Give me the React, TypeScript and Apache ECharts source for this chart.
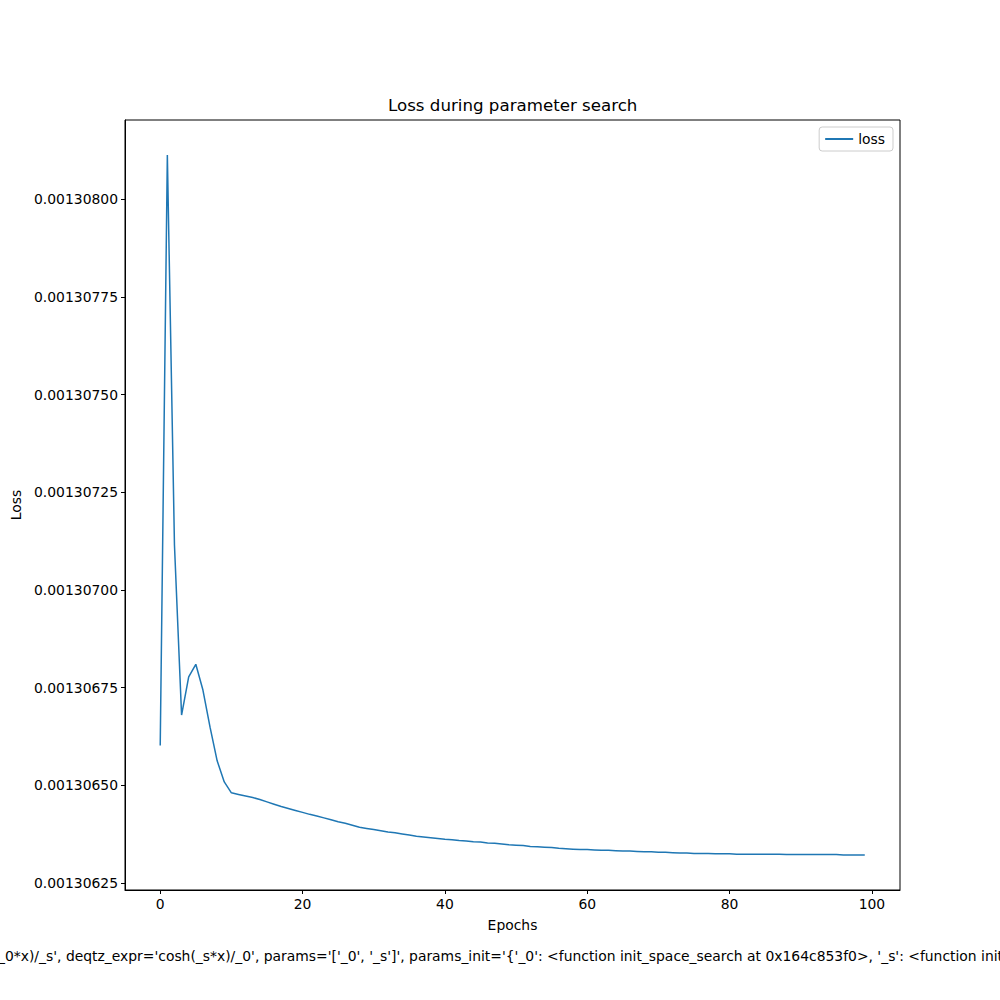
import React, { useEffect, useRef } from "react";
import * as echarts from "echarts";

const title = "Loss during parameter search";
const seriesName = "loss";
const xLabel = "Epochs";
const yLabel = "Loss";
const footerText =
  "_0*x)/_s', deqtz_expr='cosh(_s*x)/_0', params='['_0', '_s']', params_init='{'_0': <function init_space_search at 0x164c853f0>, '_s': <function init";

const xTicks = [0, 20, 40, 60, 80, 100];
const yTicks = [0.00130625, 0.0013065, 0.00130675, 0.001307, 0.00130725, 0.0013075, 0.00130775, 0.001308];

const loss = [
  0.001306602, 0.001308113, 0.001307115, 0.00130668, 0.001306778, 0.00130681, 0.001306744, 0.001306649, 0.001306563, 0.001306509,
  0.001306481, 0.001306477, 0.001306473, 0.001306469, 0.001306464, 0.001306458, 0.001306452, 0.001306446, 0.001306441, 0.001306436,
  0.001306431, 0.001306426, 0.001306422, 0.001306417, 0.001306412, 0.001306407, 0.001306403, 0.001306398, 0.001306393, 0.00130639,
  0.001306387, 0.001306384, 0.001306381, 0.001306379, 0.001306376, 0.001306373, 0.00130637, 0.001306368, 0.001306366, 0.001306364,
  0.001306362, 0.001306361, 0.001306359, 0.001306358, 0.001306356, 0.001306355, 0.001306353, 0.001306352, 0.00130635, 0.001306348,
  0.001306347, 0.001306346, 0.001306344, 0.001306343, 0.001306342, 0.001306341, 0.001306339, 0.001306338, 0.001306337, 0.001306336,
  0.001306336, 0.001306335, 0.001306334, 0.001306334, 0.001306333, 0.001306332, 0.001306332, 0.001306331, 0.00130633, 0.00130633,
  0.001306329, 0.001306329, 0.001306328, 0.001306327, 0.001306327, 0.001306326, 0.001306326, 0.001306326, 0.001306325, 0.001306325,
  0.001306325, 0.001306324, 0.001306324, 0.001306324, 0.001306324, 0.001306324, 0.001306324, 0.001306324, 0.001306323, 0.001306323,
  0.001306323, 0.001306323, 0.001306323, 0.001306323, 0.001306323, 0.001306323, 0.001306322, 0.001306322, 0.001306322, 0.001306322,
];

const epochs = loss.map((_, i) => i);

const FONT = "DejaVu Sans";
const FS = 13.9;

export default function App() {
  const ref = useRef<HTMLDivElement>(null);
  useEffect(() => {
    document.body.style.margin = "0";
    if (!ref.current) return;
    const chart = echarts.init(ref.current, null, { renderer: "svg" });
    const xMin = -4.95;
    const xMax = 103.95;
    const yMinData = Math.min(...loss);
    const yMaxData = Math.max(...loss);
    const pad = (yMaxData - yMinData) * 0.05;
    chart.setOption({
      animation: false,
      backgroundColor: "#ffffff",
      textStyle: { fontFamily: FONT },
      title: {
        text: title,
        left: 388,
        top: 97,
        textStyle: { fontFamily: FONT, fontSize: 16.67, fontWeight: "normal", color: "#000" },
        itemGap: 0,
        padding: 0,
      },
      legend: {
        data: [{ name: seriesName, icon: "rect" }],
        right: 107,
        top: 127,
        itemWidth: 28,
        itemHeight: 2,
        itemGap: 10,
        padding: [5, 8, 5, 6],
        borderColor: "#cccccc",
        borderWidth: 1,
        borderRadius: 3,
        textStyle: { fontFamily: FONT, fontSize: FS, color: "#000" },
      },
      grid: {
        left: 125,
        right: 100,
        top: 120,
        bottom: 110,
        show: true,
        borderColor: "#000",
        borderWidth: 1,
        containLabel: false,
      },
      xAxis: {
        type: "value",
        min: xMin,
        max: xMax,
        name: xLabel,
        nameLocation: "middle",
        nameGap: 28,
        nameTextStyle: { fontFamily: FONT, fontSize: FS, color: "#000" },
        axisLine: { show: true, onZero: false, lineStyle: { color: "#000", width: 1 } },
        axisTick: { show: true, inside: false, length: 4, lineStyle: { color: "#000" }, customValues: xTicks },
        axisLabel: {
          color: "#000",
          fontFamily: FONT,
          fontSize: FS,
          margin: 7,
          customValues: xTicks,
          formatter: (v: number) => String(v),
        },
        splitLine: { show: false },
      },
      yAxis: {
        type: "value",
        min: yMinData - pad,
        max: yMaxData + pad,
        name: yLabel,
        nameLocation: "middle",
        nameGap: 98,
        nameRotate: 90,
        nameTextStyle: { fontFamily: FONT, fontSize: FS, color: "#000" },
        axisLine: { show: true, onZero: false, lineStyle: { color: "#000", width: 1 } },
        axisTick: { show: true, inside: false, length: 4, lineStyle: { color: "#000" }, customValues: yTicks },
        axisLabel: {
          color: "#000",
          fontFamily: FONT,
          fontSize: FS,
          margin: 7,
          customValues: yTicks,
          formatter: (v: number) => v.toFixed(8),
        },
        splitLine: { show: false },
      },
      graphic: [
        {
          type: "text",
          left: -2,
          top: 949,
          style: { text: footerText, font: `${FS}px "${FONT}"`, fill: "#000" },
        },
      ],
      series: [
        {
          name: seriesName,
          type: "line",
          data: epochs.map((e, i) => [e, loss[i]]),
          showSymbol: false,
          symbol: "none",
          lineStyle: { color: "#1f77b4", width: 1.5 },
          itemStyle: { color: "#1f77b4" },
        },
      ],
    });
    return () => chart.dispose();
  }, []);
  return <div ref={ref} style={{ width: 1000, height: 1000 }} />;
}
